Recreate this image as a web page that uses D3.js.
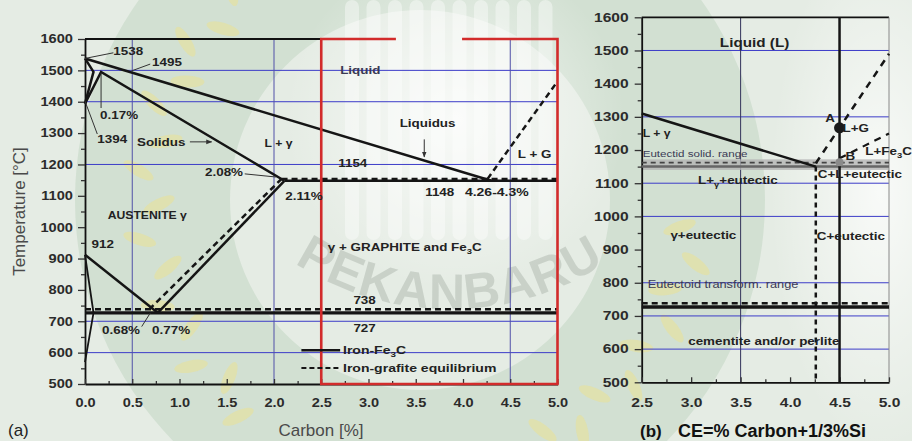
<!DOCTYPE html>
<html>
<head>
<meta charset="utf-8">
<script src="https://cdn.jsdelivr.net/npm/d3@7/dist/d3.min.js"></script>
<style>
  html, body { margin: 0; padding: 0; background: #fff; }
  svg { display: block; font-family: "Liberation Sans", Arial, sans-serif; }
</style>
</head>
<body>
<svg id="chart" width="912" height="441"></svg>
<script>
// ---------- axes ----------
const tempTicks = [500, 600, 700, 800, 900, 1000, 1100, 1200, 1300, 1400, 1500, 1600];
const tempMinor = [550, 650, 750, 850, 950, 1050, 1150, 1250, 1350, 1450, 1550];
const carbonTicksA = [0, 0.5, 1, 1.5, 2, 2.5, 3, 3.5, 4, 4.5, 5];
const carbonMinorA = [0.25, 0.75, 1.25, 1.75, 2.25, 2.75, 3.25, 3.75, 4.25, 4.75];
const carbonTicksB = [2.5, 3, 3.5, 4, 4.5, 5];
const carbonMinorB = [2.75, 3.25, 3.75, 4.25, 4.75];
const gridTempA = [600, 700, 1200, 1400, 1500];
const gridCarbonA = [0.5, 2.0, 4.5];
const gridTempB = [600, 700, 800, 1000, 1100, 1300, 1500];
const gridCarbonB = [3.5];

// ---------- (a) Fe–Fe3C system, [carbon %, °C] ----------
const liquidusA = [[0, 1538], [4.3, 1148]];
const deltaLoopA = [[0, 1538], [0.09, 1495], [0, 1394]];
const solidusA = [[0, 1394], [0.17, 1495], [2.11, 1148]];
const acmA = [[0.77, 727], [2.11, 1148]];
const a3A = [[0, 912], [0.77, 727]];
const ferriteA = [[0, 912], [0.09, 727], [0, 570]];
const eutecticA = [[2.11, 1148], [5, 1148]];
const eutectoidA = [[0, 727], [5, 727]];
// (a) iron–graphite equilibrium
const acmGrA = [[0.68, 738], [2.08, 1154]];
const eutecticGrA = [[2.08, 1154], [5, 1154]];
const eutectoidGrA = [[0, 738], [5, 738]];
const liquidusGrA = [[4.26, 1154], [5, 1465]];
// highlighted hypereutectic window
const windowA = [[3.29, 1600], [2.5, 1600], [2.5, 500], [5, 500], [5, 1600], [3.99, 1600]];

// ---------- (b) cast-iron window, [CE, °C] ----------
const liquidusB = [[2.5, 1310], [4.26, 1150]];
const eutecticBandB = [1140, 1172];
const eutecticB = [[2.5, 1150], [5, 1150]];
const eutecticGrB = [[2.5, 1162], [5, 1162]];
const eutectoidB = [[2.5, 727], [5, 727]];
const eutectoidGrB = [[2.5, 738], [5, 738]];
const ceEutecticB = [[4.26, 1150], [4.26, 500]];
const ceAlloyB = [[4.5, 500], [4.5, 1600]];
const graphiteLiqB = [[4.26, 1160], [5, 1490]];
const cementiteLiqB = [[4.5, 1175], [5, 1250]];
const pointA = [4.5, 1267];
const pointB = [4.5, 1163];

// ---------- annotations, anchored in data units ----------
const labelsA = [
  { text: "1538", c: 0.30, t: 1549 },
  { text: "1495", c: 0.71, t: 1514 },
  { text: "0.17%", c: 0.16, t: 1345 },
  { text: "1394", c: 0.13, t: 1268 },
  { text: "Solidus", c: 0.55, t: 1259 },
  { text: "L + γ", c: 1.90, t: 1256 },
  { text: "2.08%", c: 1.27, t: 1163 },
  { text: "2.11%", c: 2.12, t: 1087 },
  { text: "1154", c: 2.68, t: 1192 },
  { text: "1148", c: 3.60, t: 1099 },
  { text: "4.26-4.3%", c: 4.02, t: 1099 },
  { text: "Liquid", c: 2.70, t: 1488 },
  { text: "Liquidus", c: 3.33, t: 1319 },
  { text: "L + G", c: 4.58, t: 1221 },
  { text: "AUSTENITE γ", c: 0.24, t: 1026 },
  { text: "912", c: 0.07, t: 934 },
  { text: "γ + GRAPHITE and Fe{3}C", c: 2.57, t: 924 },
  { text: "738", c: 2.84, t: 755 },
  { text: "727", c: 2.84, t: 666 },
  { text: "0.68%", c: 0.18, t: 659 },
  { text: "0.77%", c: 0.71, t: 659 }
];
const leadersA = [
  [[0, 1538], [0.30, 1556]],
  [[0.69, 1520], [0.49, 1498]],
  [[0.17, 1492], [0.17, 1380]],
  [[0, 1402], [0.13, 1297]],
  [[1.69, 1170], [2.02, 1160]],
  [[0.60, 683], [0.69, 726]]
];
const arrowsA = [
  [[1.11, 1272], [1.34, 1272]],
  [[3.59, 1280], [3.59, 1224]]
];
const legendA = [
  { text: "Iron-Fe{3}C", c: 2.73, t: 608, dashed: false },
  { text: "Iron-grafite equilibrium", c: 2.73, t: 551, dashed: true }
];
const labelsB = [
  { text: "Liquid (L)", c: 3.29, t: 1510 },
  { text: "L + γ", c: 2.51, t: 1239 },
  { text: "Eutectid solid. range", c: 2.51, t: 1179 },
  { text: "L+{γ}+eutectic", c: 3.07, t: 1098 },
  { text: "A", c: 4.355, t: 1284 },
  { text: "L+G", c: 4.53, t: 1254 },
  { text: "B", c: 4.56, t: 1170 },
  { text: "L+Fe{3}C", c: 4.76, t: 1185 },
  { text: "C+L+eutectic", c: 4.28, t: 1116 },
  { text: "γ+eutectic", c: 2.79, t: 932 },
  { text: "C+eutectic", c: 4.27, t: 929 },
  { text: "Eutectoid transform. range", c: 2.56, t: 784 },
  { text: "cementite and/or perlite", c: 2.97, t: 612 }
];

// per-label type overrides
const labelStyle = {
  "Liquid": { color: "#3a3a55" },
  "L + γ": { size: 10 },
  "AUSTENITE γ": { size: 10 },
  "4.26-4.3%": { size: 11.5 },
  "Liquid (L)": { size: 12.5 },
  "Eutectid solid. range": { size: 9.5, weight: "normal", color: "#3a3a55" },
  "Eutectoid transform. range": { size: 10.5, weight: "normal", color: "#3a3a55" },
  "Iron-grafite equilibrium": { size: 11.5 },
  "Iron-Fe{3}C": { size: 11.5 }
};

// ---------- layout ----------
const SX = 1.22;   // labels are set slightly wide
const svg = d3.select("#chart");
const xA = d3.scaleLinear([0, 5], [85, 557.5]);
const yA = d3.scaleLinear([500, 1600], [384, 39]);
const xB = d3.scaleLinear([2.5, 5], [641.7, 889]);
const yB = d3.scaleLinear([500, 1600], [382.3, 17.3]);

// ---------- faint emblem behind the plots ----------
const emb = svg.append("g");
emb.append("rect").attr("width", 912).attr("height", 441).attr("fill", "#e5ece4");
const ecx = 420, ecy = 200;
const ring = d3.arc()({ innerRadius: 190, outerRadius: 345, startAngle: 0, endAngle: 2 * Math.PI });
emb.append("path").attr("transform", `translate(${ecx},${ecy})`).attr("d", ring)
  .attr("fill", "rgba(70,140,80,0.12)");
// lighter centre and right margin
const glow = svg.append("defs").append("radialGradient").attr("id", "glow");
glow.append("stop").attr("offset", "0%").attr("stop-color", "#fff").attr("stop-opacity", 0.75);
glow.append("stop").attr("offset", "100%").attr("stop-color", "#fff").attr("stop-opacity", 0);
emb.append("ellipse").attr("cx", 455).attr("cy", 120).attr("rx", 170).attr("ry", 170).attr("fill", "url(#glow)");
emb.append("ellipse").attr("cx", 880).attr("cy", 190).attr("rx", 110).attr("ry", 260).attr("fill", "url(#glow)");
// pale building with vertical ribs
d3.range(0, 10).forEach(i => {
  emb.append("rect").attr("x", 345 + i * 21.5).attr("y", 0).attr("width", 14).attr("height", 240)
    .attr("rx", 7).attr("fill", "rgba(255,255,255,0.4)");
});
// rice grains along the ring
const grainAngles = [6, 13, 20, 27, 34, 41, 48, 55, 62, 130, 137, 144, 151, 158, 165, 172, 179, 186, 193, 200, 207, 214, 221, 228];
grainAngles.forEach((a, i) => {
  const rad = a * Math.PI / 180;
  const r = 272 + (i % 2 ? 11 : -11);
  emb.append("ellipse")
    .attr("transform", `translate(${ecx + r * Math.cos(rad)},${ecy + r * Math.sin(rad)}) rotate(${a + 90 + (i % 2 ? 25 : -25)})`)
    .attr("rx", 6).attr("ry", 17).attr("fill", "rgba(244,226,120,0.38)");
});
// curved city name
const tr = 284, tcx = 450, tcy = 25;
const a0 = 150 * Math.PI / 180, a1 = 30 * Math.PI / 180;
emb.append("path").attr("id", "cityArc").attr("fill", "none")
  .attr("d", `M${tcx + tr * Math.cos(a0)},${tcy + tr * Math.sin(a0)} A${tr},${tr} 0 0 0 ${tcx + tr * Math.cos(a1)},${tcy + tr * Math.sin(a1)}`);
emb.append("text").attr("font-size", 50).attr("font-weight", "bold").attr("fill", "rgba(130,140,130,0.28)")
  .attr("letter-spacing", 1)
  .append("textPath").attr("href", "#cityArc").attr("startOffset", "50%").attr("text-anchor", "middle")
  .text("PEKANBARU");

// ---------- helpers ----------
function addLabel(g, x, y, str, opt = {}) {
  const size = opt.size || 11;
  const t = g.append("text")
    .attr("transform", `translate(${x},${y}) scale(${opt.sx || SX},1)`)
    .attr("font-size", size)
    .attr("font-weight", opt.weight || "bold")
    .attr("fill", opt.color || "#222")
    .attr("text-anchor", opt.anchor || "start");
  let lowered = false;
  str.split(/(\{[^}]*\})/).forEach(p => {
    if (!p) return;
    if (p[0] === "{") {
      t.append("tspan").attr("font-size", size * 0.7).attr("dy", 3).text(p.slice(1, -1));
      lowered = true;
    } else {
      const s = t.append("tspan").text(p);
      if (lowered) { s.attr("dy", -3); lowered = false; }
    }
  });
  return t;
}
function path(g, data, x, y, style) {
  return g.append("path").datum(data)
    .attr("d", d3.line().x(d => x(d[0])).y(d => y(d[1])))
    .attr("fill", "none")
    .attr("stroke", style.color || "#151515")
    .attr("stroke-width", style.width || 2.5)
    .attr("stroke-dasharray", style.dash || null)
    .attr("stroke-linejoin", "miter");
}
function styleTickText(g, size, sx) {
  g.attr("font-size", null).attr("font-family", null);
  g.selectAll(".tick text")
    .attr("font-size", size).attr("font-weight", "bold").attr("fill", "#2b2b2b")
    .each(function () {
      const t = d3.select(this);
      const x = +t.attr("x") || 0;
      t.attr("x", x / sx).attr("transform", `scale(${sx},1)`);
    });
}
const DASH = "6,4";
const defs = svg.append("defs");
defs.append("marker").attr("id", "arr").attr("viewBox", "0 0 10 10").attr("refX", 9).attr("refY", 5)
  .attr("markerWidth", 6).attr("markerHeight", 6).attr("orient", "auto")
  .append("path").attr("d", "M0,1 L10,5 L0,9 Z").attr("fill", "#333");

// ================= panel (a) =================
const gA = svg.append("g");
gridTempA.forEach(t => gA.append("line").attr("x1", xA(0)).attr("x2", xA(5)).attr("y1", yA(t)).attr("y2", yA(t))
  .attr("stroke", "#3c3cc8").attr("stroke-width", 1));
gridCarbonA.forEach(c => gA.append("line").attr("x1", xA(c)).attr("x2", xA(c)).attr("y1", yA(500)).attr("y2", yA(1600))
  .attr("stroke", "#5050a8").attr("stroke-width", 1));

// frame: top edge and axes
gA.append("line").attr("x1", xA(0)).attr("x2", xA(2.5)).attr("y1", yA(1600)).attr("y2", yA(1600))
  .attr("stroke", "#111").attr("stroke-width", 1.8);

const axLA = gA.append("g").attr("transform", `translate(${xA(0)},0)`)
  .call(d3.axisLeft(yA).tickValues(tempTicks).tickSize(7).tickSizeOuter(0).tickPadding(5).tickFormat(d3.format("d")));
const axLAm = gA.append("g").attr("transform", `translate(${xA(0)},0)`)
  .call(d3.axisLeft(yA).tickValues(tempMinor).tickSize(4).tickFormat(() => ""));
const axBA = gA.append("g").attr("transform", `translate(0,${yA(500)})`)
  .call(d3.axisBottom(xA).tickValues(carbonTicksA).tickSize(-5).tickSizeOuter(0).tickPadding(14).tickFormat(d3.format(".1f")));
const axBAm = gA.append("g").attr("transform", `translate(0,${yA(500)})`)
  .call(d3.axisBottom(xA).tickValues(carbonMinorA).tickSize(-3).tickFormat(() => ""));
[axLAm, axBAm].forEach(g => g.select(".domain").remove());
[axLA, axBA, axLAm, axBAm].forEach(g => {
  g.select(".domain").attr("stroke", "#111").attr("stroke-width", 1.8);
  g.selectAll(".tick line").attr("stroke", "#333").attr("stroke-width", 1.3);
});
styleTickText(axLA, 12, 1.22);
styleTickText(axBA, 13, 1.12);

// phase lines
[liquidusA, deltaLoopA, solidusA, acmA, a3A, eutecticA].forEach(d => path(gA, d, xA, yA, {}));
path(gA, ferriteA, xA, yA, { width: 1.8 });
path(gA, eutectoidA, xA, yA, { width: 3.2 });
[acmGrA, eutecticGrA, eutectoidGrA, liquidusGrA].forEach(d => path(gA, d, xA, yA, { dash: DASH }));

// window
path(gA, windowA, xA, yA, { color: "#d22b2b", width: 2.6 });

// leaders and arrows
leadersA.forEach(d => path(gA, d, xA, yA, { color: "#333", width: 1 }));
arrowsA.forEach(d => path(gA, d, xA, yA, { color: "#333", width: 1 }).attr("marker-end", "url(#arr)"));

// text
labelsA.forEach(l => addLabel(gA, xA(l.c), yA(l.t), l.text, labelStyle[l.text] || {}));

// legend
legendA.forEach(l => {
  path(gA, [[l.c - 0.44, l.t], [l.c - 0.03, l.t]], xA, yA, l.dashed ? { dash: "5,3", width: 2.2 } : { width: 2.5 });
  addLabel(gA, xA(l.c), yA(l.t) + 4, l.text, labelStyle[l.text] || {});
});

// axis titles
gA.append("text").attr("transform", `translate(25,${(yA(500) + yA(1600)) / 2}) rotate(-90)`)
  .attr("text-anchor", "middle").attr("font-size", 17).attr("fill", "#4a4a4a").text("Temperature [°C]");
gA.append("text").attr("x", 321).attr("y", 436).attr("text-anchor", "middle")
  .attr("font-size", 17).attr("fill", "#4a4a4a").text("Carbon [%]");
gA.append("text").attr("x", 8).attr("y", 436).attr("font-size", 17).attr("fill", "#222").text("(a)");

// ================= panel (b) =================
const gB = svg.append("g");
gridTempB.forEach(t => gB.append("line").attr("x1", xB(2.5)).attr("x2", xB(5)).attr("y1", yB(t)).attr("y2", yB(t))
  .attr("stroke", "#3c3cc8").attr("stroke-width", 1));
gridCarbonB.forEach(c => gB.append("line").attr("x1", xB(c)).attr("x2", xB(c)).attr("y1", yB(500)).attr("y2", yB(1600))
  .attr("stroke", "#33335a").attr("stroke-width", 1));

// eutectic solidification band
gB.append("rect").attr("x", xB(2.5)).attr("width", xB(5) - xB(2.5))
  .attr("y", yB(eutecticBandB[1])).attr("height", yB(eutecticBandB[0]) - yB(eutecticBandB[1]))
  .attr("fill", "#b4b4b4").attr("opacity", 0.8);

// frame
gB.append("line").attr("x1", xB(2.5)).attr("x2", xB(5)).attr("y1", yB(1600)).attr("y2", yB(1600))
  .attr("stroke", "#111").attr("stroke-width", 1.8);
gB.append("line").attr("x1", xB(5)).attr("x2", xB(5)).attr("y1", yB(1600)).attr("y2", yB(500))
  .attr("stroke", "#888").attr("stroke-width", 1);

const axLB = gB.append("g").attr("transform", `translate(${xB(2.5)},0)`)
  .call(d3.axisLeft(yB).tickValues(tempTicks).tickSize(7).tickSizeOuter(0).tickPadding(6).tickFormat(d3.format("d")));
const axLBm = gB.append("g").attr("transform", `translate(${xB(2.5)},0)`)
  .call(d3.axisLeft(yB).tickValues(tempMinor).tickSize(4).tickFormat(() => ""));
const axBB = gB.append("g").attr("transform", `translate(0,${yB(500)})`)
  .call(d3.axisBottom(xB).tickValues(carbonTicksB).tickSize(-5).tickSizeOuter(0).tickPadding(15).tickFormat(d3.format(".1f")));
const axBBm = gB.append("g").attr("transform", `translate(0,${yB(500)})`)
  .call(d3.axisBottom(xB).tickValues(carbonMinorB).tickSize(-3).tickFormat(() => ""));
[axLBm, axBBm].forEach(g => g.select(".domain").remove());
[axLB, axBB, axLBm, axBBm].forEach(g => {
  g.select(".domain").attr("stroke", "#111").attr("stroke-width", 1.8);
  g.selectAll(".tick line").attr("stroke", "#333").attr("stroke-width", 1.3);
});
styleTickText(axLB, 12, 1.3);
styleTickText(axBB, 13, 1.2);

// lines
path(gB, eutecticB, xB, yB, { color: "#666", width: 2.5 });
path(gB, eutecticGrB, xB, yB, { color: "#444", width: 1.8, dash: "5,4" });
path(gB, liquidusB, xB, yB, {});
path(gB, eutectoidB, xB, yB, { width: 3.4 });
path(gB, eutectoidGrB, xB, yB, { dash: DASH });
path(gB, ceAlloyB, xB, yB, { width: 2.5 });
path(gB, ceEutecticB, xB, yB, { dash: "5,4", width: 2.5 });
path(gB, graphiteLiqB, xB, yB, { dash: "7,6", width: 2.5 });
path(gB, cementiteLiqB, xB, yB, { dash: "7,6", width: 2.2 });
gB.append("circle").attr("cx", xB(pointA[0])).attr("cy", yB(pointA[1])).attr("r", 5.5).attr("fill", "#1a1a1a");
gB.append("circle").attr("cx", xB(pointB[0])).attr("cy", yB(pointB[1])).attr("r", 4).attr("fill", "#8a8a8a");

labelsB.forEach(l => addLabel(gB, xB(l.c), yB(l.t), l.text, labelStyle[l.text] || {}));

gB.append("text").attr("x", 640).attr("y", 437).attr("font-size", 17).attr("font-weight", "bold")
  .attr("fill", "#111").text("(b)");
gB.append("text").attr("x", 678).attr("y", 437).attr("font-size", 18).attr("font-weight", "bold")
  .attr("fill", "#111").text("CE=% Carbon+1/3%Si");
</script>
</body>
</html>
